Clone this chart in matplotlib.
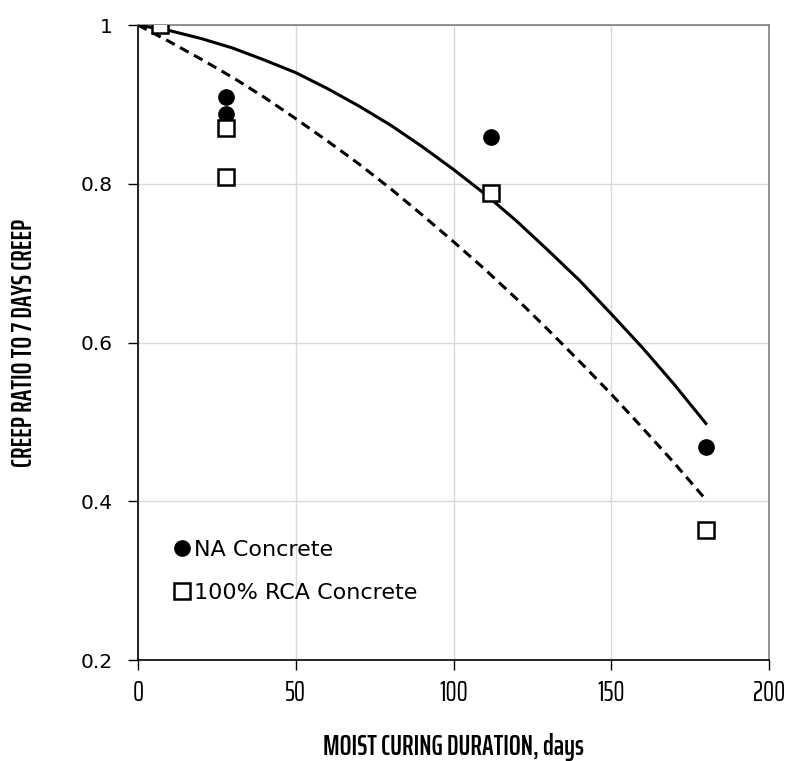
import matplotlib.pyplot as plt
from matplotlib.ticker import FixedLocator

# measured points
cure_days = [7, 28, 28, 112, 180]
na_ratio = [1.0, 0.909, 0.888, 0.859, 0.468]
rca_ratio = [1.0, 0.870, 0.809, 0.789, 0.364]

# trend lines, every 10 days
trend_days = [0, 10, 20, 30, 40, 50, 60, 70, 80, 90, 100, 110, 120, 130, 140, 150, 160, 170, 180]
na_trend = [1.000, 0.993, 0.983, 0.971, 0.956, 0.940, 0.920, 0.898, 0.874, 0.847,
            0.818, 0.787, 0.753, 0.716, 0.678, 0.636, 0.593, 0.547, 0.498]
rca_trend = [1.000, 0.979, 0.957, 0.934, 0.909, 0.882, 0.854, 0.825, 0.794, 0.761,
             0.727, 0.692, 0.655, 0.616, 0.576, 0.535, 0.492, 0.448, 0.402]

x_ticks = [0, 50, 100, 150, 200]
y_ticks = [0.2, 0.4, 0.6, 0.8, 1.0]
y_labels = ['0.2', '0.4', '0.6', '0.8', '1']

narrow = ['Saira ExtraCondensed', 'DejaVu Sans']

fig = plt.figure(figsize=(7.91, 7.61), dpi=100)
ax = fig.add_axes([0.1745, 0.1327, 0.7977, 0.8344])

ax.plot(trend_days, na_trend, color='black', lw=2.2, zorder=3)
ax.plot(trend_days, rca_trend, color='black', lw=2.2, dashes=(3.2, 2.0), zorder=3)

ax.plot(cure_days, na_ratio, 'o', ms=11, color='black', ls='none',
        label='NA Concrete', zorder=4)
ax.plot(cure_days, rca_ratio, 's', ms=11, mfc='white', mec='black', mew=1.8,
        ls='none', label='100% RCA Concrete', zorder=5)

ax.set_xlim(0, 200)
ax.set_ylim(0.2, 1.0)
ax.xaxis.set_major_locator(FixedLocator(x_ticks))
ax.set_yticks(y_ticks)
ax.set_yticklabels(y_labels)
ax.grid(True, color='#d9d9d9', lw=1.0, zorder=0)
ax.set_axisbelow(True)

for side in ['top', 'right']:
    ax.spines[side].set_color('#7f7f7f')
    ax.spines[side].set_linewidth(1.2)
for side in ['left', 'bottom']:
    ax.spines[side].set_color('black')
    ax.spines[side].set_linewidth(1.2)

ax.tick_params(axis='both', direction='out', length=7, width=1, color='black')
ax.tick_params(axis='y', labelsize=14.5, pad=11)
ax.tick_params(axis='x', pad=7)
for lab in ax.get_xticklabels():
    lab.set_family(narrow)
    lab.set_fontsize(20)

ax.set_xlabel('MOIST CURING DURATION, days', family=narrow, fontsize=20,
              fontweight='semibold')
ax.set_ylabel('CREEP RATIO TO 7 DAYS CREEP', family=narrow, fontsize=20,
              fontweight='semibold')
ax.xaxis.set_label_coords(0.5, -0.115)
ax.yaxis.set_label_coords(-0.158, 0.5)

leg = ax.legend(loc='center left', bbox_to_anchor=(0.052, 0.14), frameon=False,
                fontsize=16, handletextpad=0.03, handlelength=1.0,
                labelspacing=1.03, borderaxespad=0, borderpad=0)

fig.savefig('out.png', dpi=100)
